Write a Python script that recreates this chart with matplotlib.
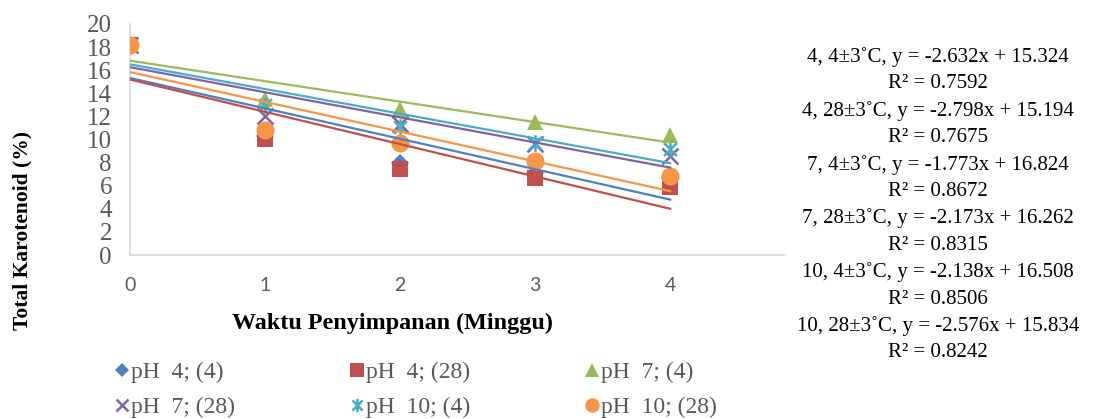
import numpy as np
import matplotlib
matplotlib.use("Agg")
import matplotlib.pyplot as plt
from matplotlib.path import Path

# data
weeks = [0, 1, 2, 3, 4]
ph4_4 = [18.2, 10.3, 8.0, 7.1, 6.7]
ph4_28 = [18.2, 10.0, 7.45, 6.7, 5.9]
ph7_4 = [18.2, 13.5, 12.6, 11.5, 10.4]
ph7_28 = [18.2, 12.0, 11.3, 9.6, 8.6]
ph10_4 = [18.2, 13.0, 11.1, 9.7, 9.2]
ph10_28 = [18.2, 10.8, 9.7, 8.1, 6.8]

labels = ["pH  4; (4)", "pH  4; (28)", "pH  7; (4)",
          "pH  7; (28)", "pH  10; (4)", "pH  10; (28)"]
slopes = [-2.632, -2.798, -1.773, -2.173, -2.138, -2.576]
intercepts = [15.324, 15.194, 16.824, 16.262, 16.508, 15.834]
r2 = ["0.7592", "0.7675", "0.8672", "0.8315", "0.8506", "0.8242"]
eq_names = ["4, 4±3˚C", "4, 28±3˚C", "7, 4±3˚C",
            "7, 28±3˚C", "10, 4±3˚C", "10, 28±3˚C"]

colors = ["#4F81BD", "#C0504D", "#9BBB59", "#8064A2", "#4BACC6", "#F79646"]

# excel style asterisk (x plus vertical bar)
ast = Path([(-1, -1), (1, 1), (-1, 1), (1, -1), (0, -1.3), (0, 1.3)],
           [Path.MOVETO, Path.LINETO, Path.MOVETO, Path.LINETO, Path.MOVETO, Path.LINETO])
markers = ["D", "s", "^", "x", ast, "o"]
msizes = [9, 12, 12, 11, 12, 13]

series = [ph4_4, ph4_28, ph7_4, ph7_28, ph10_4, ph10_28]

serif = "Liberation Serif"
gray = "#595959"

fig = plt.figure(figsize=(10.96, 4.19), dpi=100)
ax = fig.add_axes([130 / 1096, 1 - 255 / 419, 655 / 1096, 231 / 419])

handles = []
for i, ys in enumerate(series):
    lw = 1.8 if i in (3, 4) else 0
    h, = ax.plot(weeks, ys, linestyle="none", marker=markers[i], ms=msizes[i],
                 color=colors[i], mec=colors[i], mew=lw, label=labels[i], zorder=3)
    handles.append(h)

xs = np.array([0, 4])
for i in range(6):
    ax.plot(xs, slopes[i] * xs + intercepts[i], color=colors[i], lw=1.6, zorder=4)

ax.set_xlim(0, 4.85)
ax.set_ylim(0, 20)
ax.set_xticks(weeks)
ax.set_yticks(range(0, 21, 2))
for s in ["top", "right"]:
    ax.spines[s].set_visible(False)
for s in ["left", "bottom"]:
    ax.spines[s].set_color("#D9D9D9")
    ax.spines[s].set_linewidth(1.2)
ax.tick_params(length=0, colors=gray)
for t in ax.get_yticklabels():
    t.set_fontfamily(serif)
    t.set_fontsize(18)
for t in ax.get_xticklabels():
    t.set_fontfamily("Lato")
    t.set_fontsize(14)
ax.tick_params(axis="x", pad=16)
ax.tick_params(axis="y", pad=13)

fig.text(392 / 1096, 1 - 323 / 419, "Waktu Penyimpanan (Minggu)", ha="center", va="center",
         fontfamily=serif, fontweight="bold", fontsize=17.4)
fig.text(22 / 1096, 1 - 230 / 419, "Total Karotenoid (%)", ha="center", va="center",
         rotation=90, fontfamily=serif, fontweight="bold", fontsize=15.5)

# legend filled row by row like excel
order = [0, 3, 1, 4, 2, 5]
leg = fig.legend(handles=[handles[k] for k in order], labels=[labels[k] for k in order],
                 loc="upper left", bbox_to_anchor=(104 / 1096, 1 - 350 / 419),
                 ncol=3, frameon=False, prop={"family": serif, "size": 17},
                 handlelength=0.5, handletextpad=0.15, columnspacing=4.9,
                 labelspacing=0.55, markerscale=0.8, borderpad=0)
for t in leg.get_texts():
    t.set_color(gray)

for i in range(6):
    y0 = 57 + i * 53.8
    fig.text(938 / 1096, 1 - y0 / 419,
             f"{eq_names[i]}, y = {slopes[i]:.3f}x + {intercepts[i]:.3f}",
             ha="center", va="center", fontfamily=serif, fontsize=15)
    fig.text(938 / 1096, 1 - (y0 + 26.9) / 419, f"R² = {r2[i]}",
             ha="center", va="center", fontfamily=serif, fontsize=15)

fig.savefig("out.png", dpi=100)
